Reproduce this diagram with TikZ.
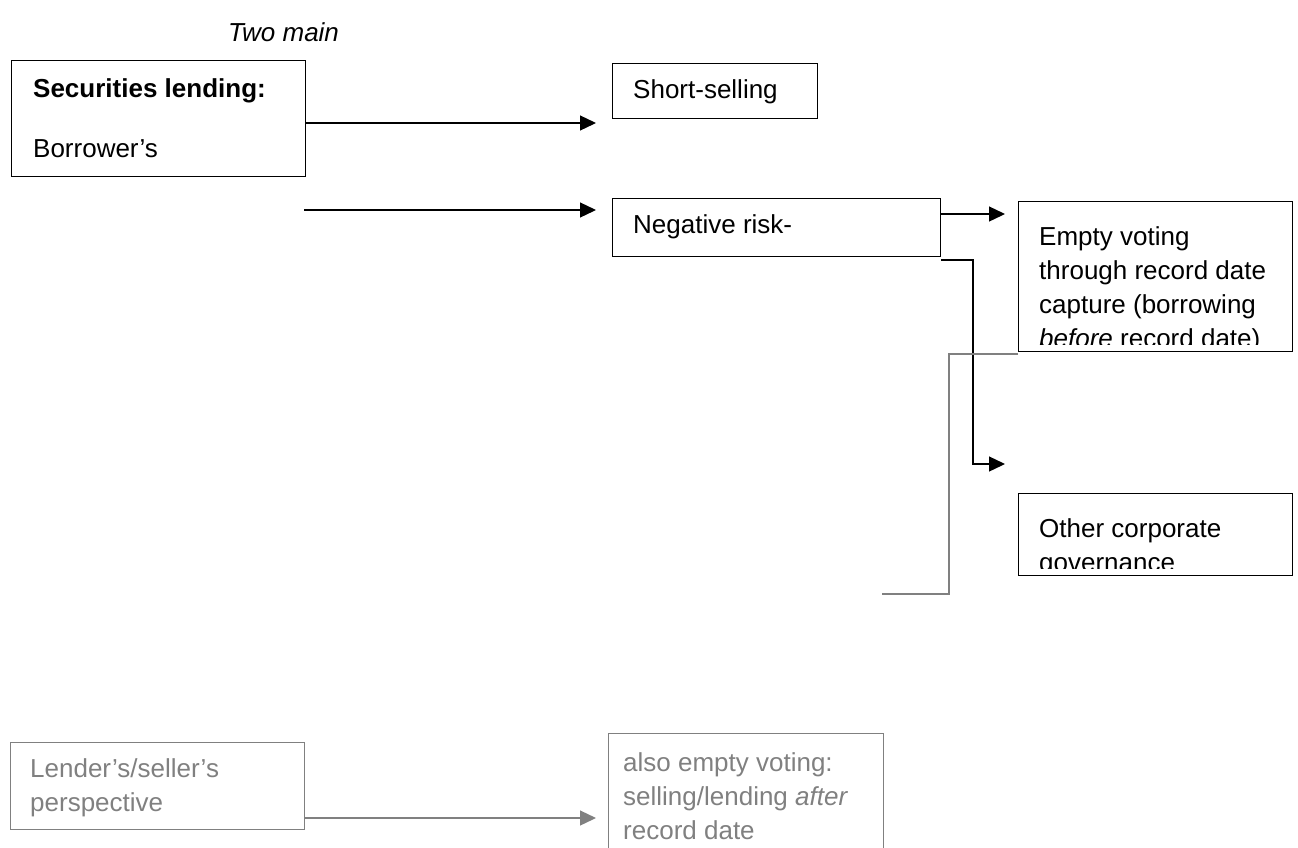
\documentclass[tikz,border=0pt]{standalone}
\usepackage{fontspec}
\setmainfont{Liberation Sans}
\usetikzlibrary{arrows.meta}
\definecolor{lgray}{RGB}{128,128,128}
\begin{document}
\begin{tikzpicture}[x=1pt,y=-1pt,
  box/.style={draw=black,line width=1.3pt,inner sep=0pt,anchor=north west},
  gbox/.style={box,draw=lgray},
  txt/.style={anchor=base west,inner sep=0pt,font=\fontsize{26}{34}\selectfont},
  gtxt/.style={txt,text=lgray},
  arr/.style={line width=1.3pt,-{Triangle[length=16pt,width=15pt]}},
  garr/.style={arr,draw=lgray,fill=lgray},
  conn/.style={line width=1.3pt},
  gconn/.style={conn,draw=lgray}]
\useasboundingbox (0,0) rectangle (1298,847);
% top label
\node[txt,font=\fontsize{26}{34}\selectfont\itshape] (two) at (228,41) {Two main};
% boxes
\node[box,minimum width=294pt,minimum height=116pt] (sec) at (11,60) {};
\node[txt,font=\fontsize{26}{34}\selectfont\bfseries] (sect) at (33,97) {Securities lending:};
\node[txt] (borr) at (33,157) {Borrower’s};

\node[box,minimum width=205pt,minimum height=55pt] (short) at (612,63) {};
\node[txt] (shortt) at (633,98) {Short-selling};

\node[box,minimum width=328pt,minimum height=58pt] (neg) at (612,198) {};
\node[txt] (negt) at (633,233) {Negative risk-};

\node[box,minimum width=274pt,minimum height=150pt] (ev) at (1018,201) {};
\begin{scope}
\clip (1018,201) rectangle (1292,344);
\node[txt] (ev1) at (1039,245) {Empty voting};
\node[txt] (ev2) at (1039,279) {through record date};
\node[txt] (ev3) at (1039,313) {capture (borrowing};
\node[txt] (ev4) at (1039,347) {\itshape before\upshape{} record date)};
\end{scope}

\node[box,minimum width=274pt,minimum height=82pt] (oth) at (1018,493) {};
\begin{scope}
\clip (1018,493) rectangle (1292,568);
\node[txt] (oth1) at (1039,537) {Other corporate};
\node[txt] (oth2) at (1039,571) {governance};
\end{scope}

\node[gbox,minimum width=294pt,minimum height=87pt] (lend) at (10,742) {};
\node[gtxt] (lend1) at (30,777) {Lender’s/seller’s};
\node[gtxt] (lend2) at (30,811) {perspective};

\node[gbox,minimum width=275pt,minimum height=130pt] (also) at (608,733) {};
\node[gtxt] (also1) at (623,771) {also empty voting:};
\node[gtxt] (also2) at (623,805) {selling/lending \itshape after};
\node[gtxt] (also3) at (623,839) {record date};

% connectors
\coordinate (a2s) at (304,210);
\coordinate (elb) at (973,464);
\coordinate (gend) at (882,594);
\draw[arr,shorten >=16pt] (sec.east |- 0,123) -- (short.west |- 0,123);
\draw[arr,shorten >=16pt] (a2s) -- (neg.west |- a2s);
\draw[arr,shorten >=13pt] (neg.east |- 0,214) -- (ev.west |- 0,214);
\draw[arr,shorten >=13pt] (neg.south east |- 0,260) -| (elb) -- (oth.west |- elb);
\draw[gconn] (ev.south west |- 0,354) -| (949,594) -- (gend);
\draw[garr,shorten >=12pt] (lend.east |- 0,818) -- (also.west |- 0,818);
\end{tikzpicture}
\end{document}
